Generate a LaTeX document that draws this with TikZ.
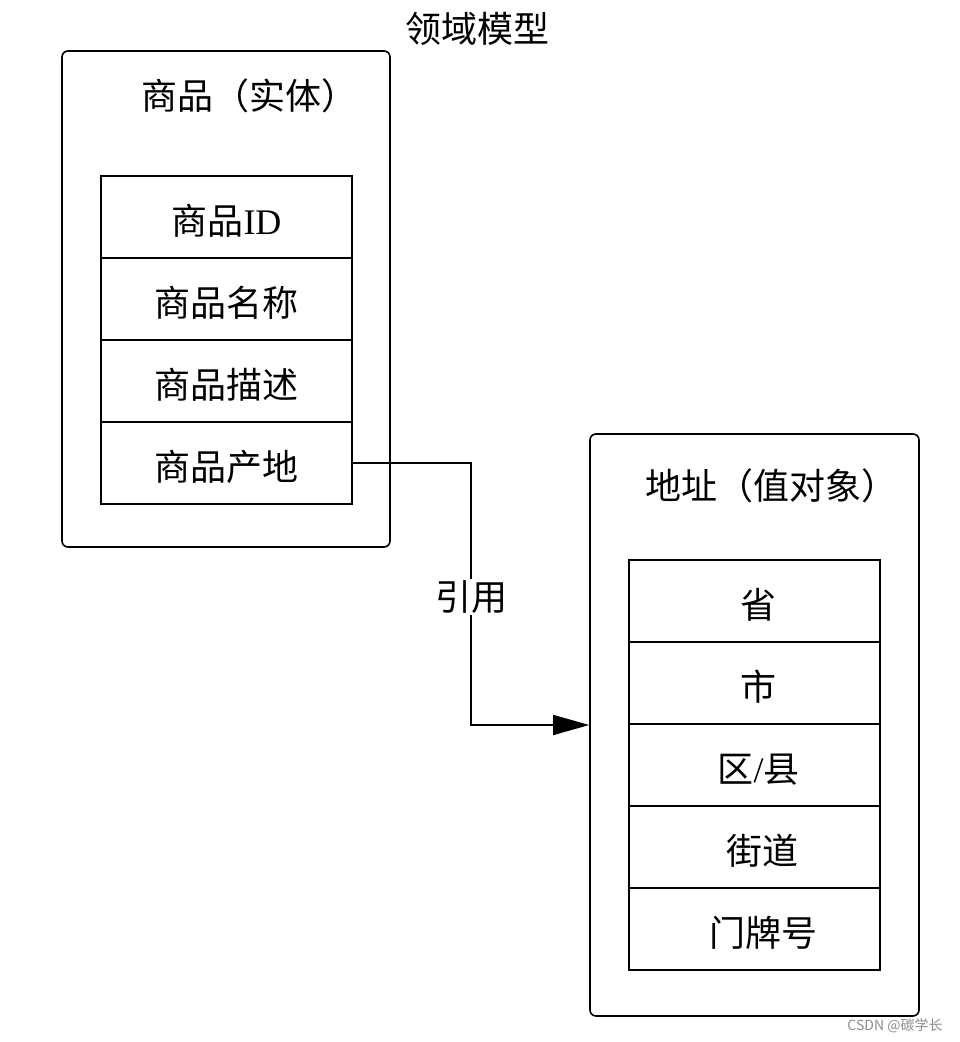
\documentclass[tikz,border=0pt]{standalone}
\usepackage{fontspec}
\setmainfont{Liberation Serif}
\newfontfamily\cjk{Noto Sans CJK SC}
\usetikzlibrary{arrows.meta}
\tikzset{
  framebox/.style={draw, line width=1.6pt, rounded corners=6pt, inner sep=0pt},
  fieldbox/.style={draw, line width=1.6pt, minimum width=251pt, minimum height=82pt, inner sep=0pt, text height=35pt, text depth=0pt, font=\fontsize{36}{38}\selectfont\cjk},
  titletext/.style={font=\fontsize{36}{38}\selectfont\cjk, inner sep=0pt},
  conn/.style={line width=1.6pt, -{Triangle[length=36pt,width=20pt]}},
  wmark/.style={font=\fontsize{14}{15}\selectfont\cjk, text=black!45, inner sep=0pt}
}
\begin{document}
\begin{tikzpicture}[x=1pt,y=-1pt]
\useasboundingbox (0,0) rectangle (960,1042);
% title
\node[titletext] (title) at (477,29) {领域模型};
% left entity
\node[framebox, minimum width=328pt, minimum height=496pt] (ent) at (226,299) {};
\node[titletext] (entt) at (249,96) {商品（实体）};
\node[fieldbox] (f1) at (226.5,217) {商品{\fontspec{Liberation Serif}ID}};
\node[fieldbox] (f2) at (226.5,299) {商品名称};
\node[fieldbox] (f3) at (226.5,381) {商品描述};
\node[fieldbox] (f4) at (226.5,463) {商品产地};
% right value object
\node[framebox, minimum width=329pt, minimum height=582pt] (addr) at (754.5,725) {};
\node[titletext] (addrt) at (771,486) {地址（值对象）};
\node[fieldbox] (g1) at (754.5,601) {\hspace{8pt}省};
\node[fieldbox] (g2) at (754.5,683) {\hspace{8pt}市};
\node[fieldbox] (g3) at (754.5,765) {\hspace{8pt}区{\fontspec{Liberation Serif}/}县};
\node[fieldbox] (g4) at (754.5,847) {\hspace{16pt}街道};
\node[fieldbox] (g5) at (754.5,929) {\hspace{18pt}门牌号};
% connector
\coordinate (mid) at (471,597);
\draw[conn] (f4.east) -| (mid) |- (addr.west);
\node[titletext, fill=white, inner sep=2pt] (lbl) at (mid) {引用};
% watermark
\node[wmark] (wm) at (895,1026) {CSDN @碳学长};
\end{tikzpicture}
\end{document}
